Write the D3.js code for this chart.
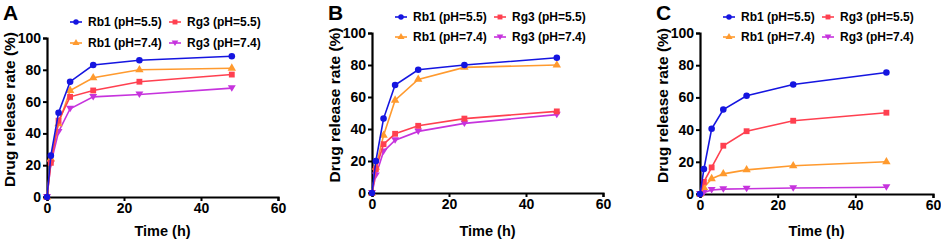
<!DOCTYPE html>
<html>
<head>
<meta charset="utf-8">
<script src="https://cdn.jsdelivr.net/npm/d3@7"></script>
<style>
  body { margin: 0; background: #fff; }
  svg { font-family: "Liberation Sans", Arial, sans-serif; font-weight: bold; }
</style>
</head>
<body>
<div id="chart"></div>
<script>
// sampling times (h)
var times = [0, 1, 3, 6, 12, 24, 48];

var seriesNames = ["Rb1 (pH=5.5)", "Rg3 (pH=5.5)", "Rb1 (pH=7.4)", "Rg3 (pH=7.4)"];
var seriesColors = ["#1515e0", "#ff4050", "#ff9a2e", "#c633dd"];
var seriesShapes = ["circle", "square", "triangle", "triangleDown"];

// panel A
var a_rb1_55 = [0, 26, 53, 72.5, 83, 86, 88.5];
var a_rg3_55 = [0, 21.5, 48, 63, 67, 72.5, 77];
var a_rb1_74 = [0, 24, 46, 67, 75, 80, 81];
var a_rg3_74 = [0, 21, 41, 55.5, 63, 64.5, 68.5];

// panel B
var b_rb1_55 = [0, 20, 46.5, 67.5, 77, 80, 84.5];
var b_rg3_55 = [0, 15, 30.5, 37, 42, 46.5, 51];
var b_rb1_74 = [0, 16, 36, 58, 71, 78.5, 80];
var b_rg3_74 = [0, 11, 26, 33, 38.5, 43.5, 49];

// panel C
var c_rb1_55 = [0, 15.5, 40.5, 52.5, 61, 68, 75.5];
var c_rg3_55 = [0, 7.5, 16.5, 30, 39, 45.5, 50.5];
var c_rb1_74 = [0, 4, 9.5, 12.5, 15, 17.5, 20];
var c_rg3_74 = [0, 1, 2.5, 3, 3.3, 3.7, 4.2];

var xTicks = [0, 20, 40, 60];
var yTicks = [0, 20, 40, 60, 80, 100];

var panels = [
  {label: "A", x0: 47, x1: 278, yTop: 38, yBot: 197, series: [a_rb1_55, a_rg3_55, a_rb1_74, a_rg3_74]},
  {label: "B", x0: 372, x1: 603, yTop: 33, yBot: 193, series: [b_rb1_55, b_rg3_55, b_rb1_74, b_rg3_74]},
  {label: "C", x0: 700, x1: 933, yTop: 33, yBot: 194, series: [c_rb1_55, c_rg3_55, c_rb1_74, c_rg3_74]}
];

var svg = d3.select("#chart").append("svg")
  .attr("width", 941)
  .attr("height", 244);

function symbolFor(shape, size) {
  if (shape == "circle") return d3.symbol().type(d3.symbolCircle).size(size)();
  if (shape == "square") return d3.symbol().type(d3.symbolSquare).size(size)();
  if (shape == "triangle") return d3.symbol().type(d3.symbolTriangle).size(size * 0.9)();
  var s = Math.sqrt(size) * 0.62;
  return `M0,${s}L${-s * 1.1},${-s * 0.8}L${s * 1.1},${-s * 0.8}Z`;
}

function drawPanel(p) {
  var x = d3.scaleLinear().domain([0, 60]).range([p.x0, p.x1]);
  var y = d3.scaleLinear().domain([0, 100]).range([p.yBot, p.yTop]);
  var g = svg.append("g");

  // panel letter
  g.append("text")
    .attr("x", p.x0 - 44)
    .attr("y", 20)
    .style("font-size", "21px")
    .text(p.label);

  // axes
  var xAxis = g.append("g")
    .attr("transform", `translate(0, ${p.yBot})`)
    .call(d3.axisBottom(x).tickValues(xTicks).tickSize(4).tickSizeOuter(4).tickPadding(2));
  var yAxis = g.append("g")
    .attr("transform", `translate(${p.x0}, 0)`)
    .call(d3.axisLeft(y).tickValues(yTicks).tickSize(4).tickSizeOuter(4).tickPadding(2));
  [xAxis, yAxis].forEach(function(ax) {
    ax.select(".domain").attr("stroke", "#000").attr("stroke-width", 2.2);
    ax.selectAll(".tick line").attr("stroke", "#000").attr("stroke-width", 2);
    ax.selectAll("text").attr("fill", "#000")
      .style("font-size", "14px").style("font-family", "Liberation Sans, Arial, sans-serif").style("font-weight", "bold");
  });

  // axis titles
  g.append("text")
    .attr("x", (p.x0 + p.x1) / 2)
    .attr("y", 236)
    .attr("text-anchor", "middle")
    .style("font-size", "14.5px")
    .text("Time (h)");
  g.append("text")
    .attr("transform", `translate(${p.x0 - 32}, ${(p.yTop + p.yBot) / 2 - 8}) rotate(-90)`)
    .attr("text-anchor", "middle")
    .style("font-size", "15.5px")
    .text("Drug release rate (%)");

  var line = d3.line()
    .x(function(d, i) { return x(times[i]); })
    .y(function(d) { return y(d); });

  // draw lower series first so blue sits on top
  var order = [3, 2, 1, 0];
  order.forEach(function(k) {
    var vals = p.series[k];
    g.append("path")
      .attr("d", line(vals))
      .attr("fill", "none")
      .attr("stroke", seriesColors[k])
      .attr("stroke-width", 1.6);
    g.selectAll(".pt" + k)
      .data(vals).enter()
      .append("path")
      .attr("transform", function(d, i) { return `translate(${x(times[i])}, ${y(d)})`; })
      .attr("d", symbolFor(seriesShapes[k], 34))
      .attr("fill", seriesColors[k]);
  });

  // legend
  var legX = [p.x0 + 23, p.x0 + 122];
  var legY = [p.yTop - 16, p.yTop + 4];
  if (p.label == "A") legY = [p.yTop - 16, p.yTop + 5];
  seriesNames.forEach(function(name, k) {
    var lx = legX[k % 2], ly = legY[Math.floor(k / 2)];
    g.append("line")
      .attr("x1", lx).attr("x2", lx + 12)
      .attr("y1", ly).attr("y2", ly)
      .attr("stroke", seriesColors[k]).attr("stroke-width", 1.6);
    g.append("path")
      .attr("transform", `translate(${lx + 6}, ${ly})`)
      .attr("d", symbolFor(seriesShapes[k], 24))
      .attr("fill", seriesColors[k]);
    g.append("text")
      .attr("x", lx + 18)
      .attr("y", ly + 4)
      .style("font-size", "12px")
      .text(name);
  });
}

panels.forEach(drawPanel);
</script>
</body>
</html>
